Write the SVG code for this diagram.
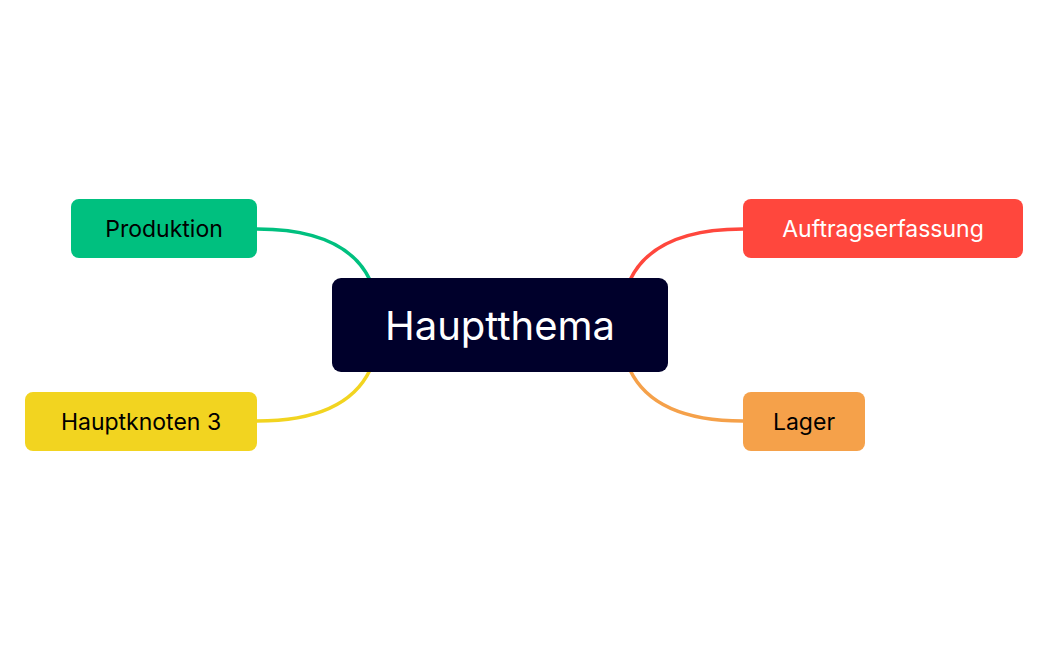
<svg xmlns="http://www.w3.org/2000/svg" width="1048" height="650" viewBox="0 0 1048 650">
<style>
.t{font-family:Inter,"Liberation Sans",sans-serif;font-size:23px;text-anchor:middle;dominant-baseline:central}
.c{fill:none;stroke-width:3.5}
</style>
<rect width="1048" height="650" fill="#fff"/>
<g id="connectors">
<path class="c" stroke="#00c07f" d="M257,229 C330,229 358,255 370,280"/>
<path class="c" stroke="#f2d420" d="M257,421 C330,421 358,395 370,370"/>
<path class="c" stroke="#ff473d" d="M743,229 C670,229 642,255 630,280"/>
<path class="c" stroke="#f5a14a" d="M743,421 C670,421 642,395 630,370"/>
</g>
<g id="center"><rect x="332" y="278" width="336" height="94" rx="9" fill="#00002b"/><text class="t" x="500" y="325" font-size="40" style="font-size:40px" fill="#fff">Hauptthema</text></g>
<g id="produktion"><rect x="71" y="199" width="186" height="59" rx="8" fill="#00c07f"/><text class="t" x="164" y="229" fill="#000">Produktion</text></g>
<g id="hauptknoten3"><rect x="25" y="392" width="232" height="59" rx="8" fill="#f2d420"/><text class="t" x="141" y="422" fill="#000">Hauptknoten 3</text></g>
<g id="auftrag"><rect x="743" y="199" width="280" height="59" rx="8" fill="#ff473d"/><text class="t" x="883" y="229" fill="#fff">Auftragserfassung</text></g>
<g id="lager"><rect x="743" y="392" width="122" height="59" rx="8" fill="#f5a14a"/><text class="t" x="804" y="422" fill="#000">Lager</text></g>
</svg>
